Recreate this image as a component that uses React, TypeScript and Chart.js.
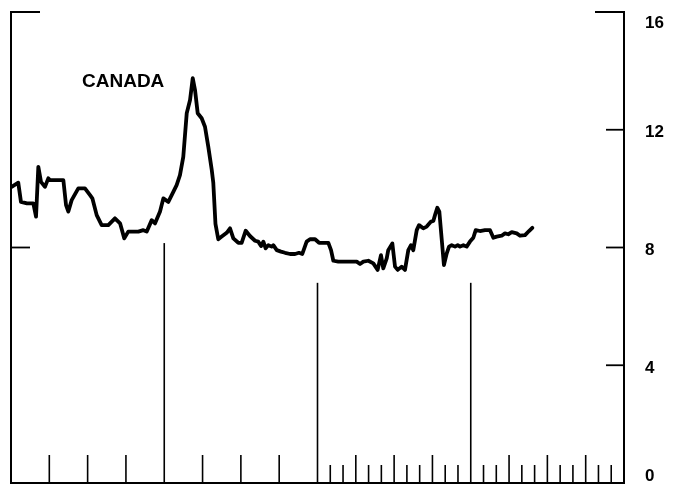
import React, { useEffect, useRef } from "react";
import { Chart, registerables } from "chart.js";

Chart.register(...registerables);

// Time axis in months from the start of the chart (4 years = 48 months)
const months = [
  0.05, 0.57, 0.78, 1.25, 1.75, 1.96, 2.14, 2.35, 2.66, 2.92, 3.05, 4.1, 4.31, 4.49, 4.75, 5.27, 5.79, 6.19,
  6.37, 6.71, 7.1, 7.62, 8.14, 8.54, 8.87, 9.18, 9.97, 10.36, 10.63, 11.02, 11.28, 11.67, 11.93, 12.32, 12.71,
  12.97, 13.23, 13.49, 13.76, 14.02, 14.23, 14.41, 14.62, 14.93, 15.19, 15.45, 15.72, 15.84, 16.01, 16.23,
  16.5, 16.89, 17.15, 17.41, 17.8, 18.06, 18.38, 18.71, 19.11, 19.36, 19.58, 19.76, 19.94, 20.15, 20.41,
  20.54, 20.81, 21.14, 21.46, 21.85, 22.24, 22.55, 22.81, 23.15, 23.41, 23.81, 24.12, 24.85, 25.06, 25.24,
  25.63, 27.07, 27.33, 27.59, 27.98, 28.37, 28.71, 28.97, 29.15, 29.42, 29.54, 29.86, 30.07, 30.28, 30.59,
  30.85, 31.11, 31.32, 31.5, 31.77, 31.95, 32.28, 32.55, 32.89, 33.07, 33.2, 33.38, 33.54, 33.72, 33.9,
  34.12, 34.3, 34.51, 34.77, 34.98, 35.16, 35.42, 35.68, 35.94, 36.2, 36.39, 36.72, 37.11, 37.51, 37.77,
  38.03, 38.42, 38.68, 38.94, 39.21, 39.6, 39.86, 40.25, 40.56, 40.82,
];

const rates = [
  10.06, 10.2, 9.55, 9.5, 9.5, 9.05, 10.74, 10.23, 10.06, 10.35, 10.29, 10.29, 9.44, 9.22, 9.61, 10.01, 10.01, 9.78,
  9.67, 9.1, 8.76, 8.76, 8.99, 8.82, 8.31, 8.54, 8.54, 8.59, 8.54, 8.93, 8.82, 9.22, 9.67, 9.55, 9.89,
  10.12, 10.46, 11.08, 12.56, 13.01, 13.75, 13.35, 12.56, 12.39, 12.1, 11.42, 10.63, 10.2, 8.8, 8.28,
  8.37, 8.5, 8.65, 8.31, 8.16, 8.16, 8.57, 8.39, 8.23, 8.2, 8.05, 8.2, 7.97, 8.08, 8.03,
  8.08, 7.91, 7.86, 7.82, 7.78, 7.78, 7.82, 7.78, 8.2, 8.28, 8.28, 8.16, 8.16, 7.91, 7.55,
  7.52, 7.52, 7.44, 7.52, 7.55, 7.46, 7.24, 7.74, 7.29, 7.63, 7.91, 8.14, 7.35, 7.24, 7.35,
  7.24, 7.91, 8.08, 7.91, 8.59, 8.76, 8.65, 8.71, 8.88, 8.9, 9.1, 9.35, 9.22, 8.31, 7.4,
  7.8, 8.03, 8.08, 8.03, 8.08, 8.03, 8.08, 8.03, 8.2, 8.33, 8.59, 8.56, 8.59, 8.59, 8.33,
  8.37, 8.4, 8.48, 8.45, 8.52, 8.48, 8.4, 8.42, 8.56, 8.67,
];

const yTickValues = [0, 4, 8, 12, 16];
const yTickLabels = ["0", "4", "8", "12", "16"];
const quarterTicks = [3, 6, 9, 15, 18, 21, 27, 30, 33, 39, 42, 45];
const monthTicks = [25, 26, 28, 29, 31, 32, 34, 35, 37, 38, 40, 41, 43, 44, 46, 47];
const yearLines = [12, 24, 36];
const yearLineTops = [8.15, 6.8, 6.8];
const seriesLabel = "CANADA";

const framePlugin = {
  id: "frame",
  afterDatasetsDraw(chart: any) {
    const { ctx, chartArea: a, scales } = chart;
    const x = scales.x;
    const y = scales.y;
    const line = (x1: number, y1: number, x2: number, y2: number, w: number) => {
      ctx.lineWidth = w;
      ctx.beginPath();
      ctx.moveTo(x1, y1);
      ctx.lineTo(x2, y2);
      ctx.stroke();
    };
    ctx.save();
    ctx.strokeStyle = "#000";
    ctx.lineCap = "butt";
    // axes frame
    line(a.left, a.top - 1, a.left, a.bottom + 1, 2);
    line(a.right, a.top - 1, a.right, a.bottom + 1, 2);
    line(a.left, a.bottom, a.right, a.bottom, 2);
    // top brackets
    const yTop = y.getPixelForValue(16);
    line(a.left, yTop, a.left + 29, yTop, 2);
    line(a.right - 29, yTop, a.right, yTop, 2);
    // right inward ticks
    [4, 8, 12].forEach((v) => {
      const p = y.getPixelForValue(v);
      line(a.right - 18, p, a.right, p, 1.8);
    });
    // left tick at 8
    const p8 = y.getPixelForValue(8);
    line(a.left, p8, a.left + 19, p8, 1.8);
    // bottom ticks
    quarterTicks.forEach((m) => {
      const px = x.getPixelForValue(m);
      line(px, a.bottom - 28, px, a.bottom, 1.6);
    });
    monthTicks.forEach((m) => {
      const px = x.getPixelForValue(m);
      line(px, a.bottom - 18, px, a.bottom, 1.6);
    });
    yearLines.forEach((m, i) => {
      const px = x.getPixelForValue(m);
      line(px, y.getPixelForValue(yearLineTops[i]), px, a.bottom, 1.6);
    });
    // y tick labels (right side)
    ctx.fillStyle = "#000";
    ctx.font = "bold 17px 'Liberation Sans', Arial, sans-serif";
    ctx.textAlign = "left";
    ctx.textBaseline = "middle";
    yTickValues.forEach((v, i) => {
      const p = y.getPixelForValue(v) + 3;
      const cy = Math.min(Math.max(p, a.top + 11), a.bottom - 7);
      ctx.fillText(yTickLabels[i], a.right + 21, cy);
    });
    // series label
    ctx.font = "bold 19px 'Liberation Sans', Arial, sans-serif";
    ctx.textBaseline = "alphabetic";
    ctx.fillText(seriesLabel, x.getPixelForValue(5.56), y.getPixelForValue(13.45));
    ctx.restore();
  },
};

export default function App() {
  const ref = useRef<HTMLCanvasElement | null>(null);
  useEffect(() => {
    if (!ref.current) return;
    const chart = new Chart(ref.current, {
      type: "line",
      data: {
        datasets: [
          {
            label: seriesLabel,
            data: months.map((m, i) => ({ x: m, y: rates[i] })),
            borderColor: "#000",
            borderWidth: 3.8,
            pointRadius: 0,
            tension: 0,
            borderJoinStyle: "round",
            borderCapStyle: "round",
            fill: false,
          },
        ],
      },
      options: {
        responsive: false,
        animation: false,
        events: [],
        layout: { padding: { left: 11, top: 12, bottom: 4, right: 55 } },
        plugins: { legend: { display: false }, tooltip: { enabled: false } },
        scales: {
          x: { type: "linear", min: 0, max: 48, display: false },
          y: { type: "linear", min: 0, max: 16, display: false },
        },
      },
      plugins: [framePlugin],
    });
    return () => chart.destroy();
  }, []);
  return (
    <div style={{ position: "fixed", left: 0, top: 0, width: 679, height: 487, background: "#fff" }}>
      <canvas ref={ref} width={679} height={487} style={{ display: "block" }} />
    </div>
  );
}
